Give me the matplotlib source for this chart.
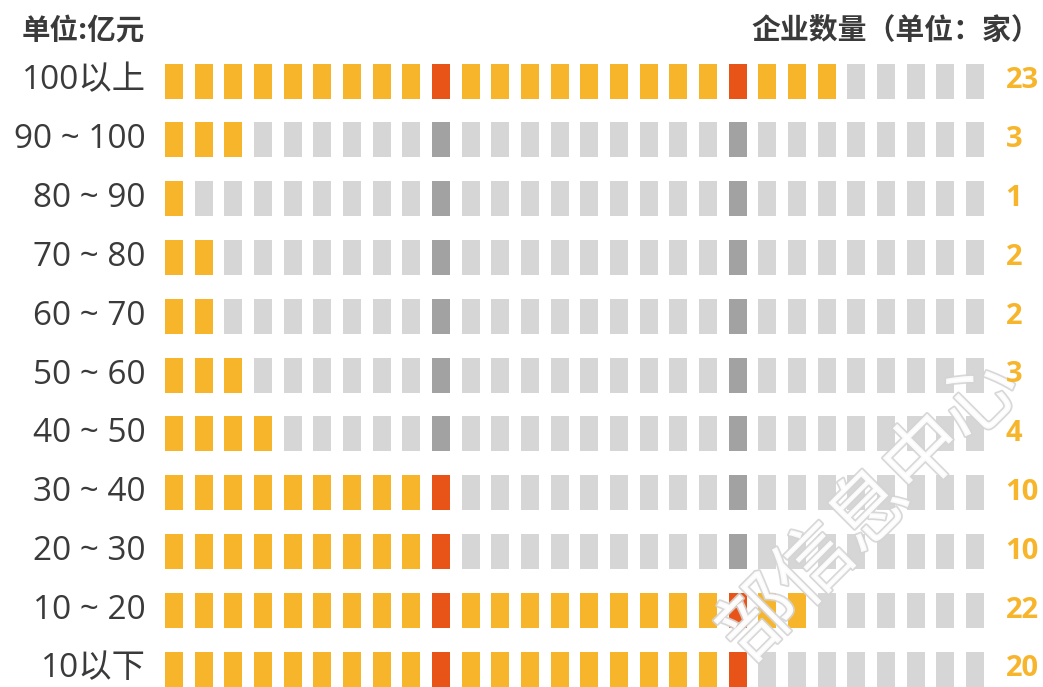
import matplotlib
matplotlib.use("Agg")
import matplotlib.pyplot as plt
import matplotlib.patheffects as pe
import numpy as np

# faixas de receita (亿元) e número de empresas
faixas = ["100以上", "90 ~ 100", "80 ~ 90", "70 ~ 80", "60 ~ 70", "50 ~ 60",
          "40 ~ 50", "30 ~ 40", "20 ~ 30", "10 ~ 20", "10以下"]
empresas = [23, 3, 1, 2, 2, 3, 4, 10, 10, 22, 20]
n_blocos = 28

amarelo = "#F7B52C"
vermelho = "#E85418"
cinza = "#D6D6D6"
cinza_esc = "#A2A2A2"
texto = "#3A3A3A"

plt.rcParams["font.family"] = ["Open Sans", "Noto Sans CJK SC", "DejaVu Sans"]

W, H = 1043, 687
fig = plt.figure(figsize=(W / 100, H / 100), dpi=100)
ax = fig.add_axes([0, 0, 1, 1])

# escala: coluna i -> pixel 174 + 29.67*i ; linha r -> pixel 81 + 58.8*r
px_col, x0 = 29.67, 174
px_lin, y0 = 58.8, 81
ax.set_xlim(-x0 / px_col, (W - x0) / px_col)
ax.set_ylim((H - y0) / px_lin, -y0 / px_lin)
ax.axis("off")

cols = np.arange(n_blocos)
for r, (faixa, n) in enumerate(zip(faixas, empresas)):
    cores = []
    for i in cols:
        marco = (i + 1) % 10 == 0
        if i < n:
            cores.append(vermelho if marco else amarelo)
        else:
            cores.append(cinza_esc if marco else cinza)
    ax.bar(cols, [35 / px_lin] * n_blocos, bottom=r - 17.5 / px_lin,
           width=18 / px_col, color=cores, linewidth=0, zorder=2)
    ax.text(-0.95, r, faixa, ha="right", va="center", fontsize=24,
            color=texto, zorder=6)
    ax.text(n_blocos + 0.03, r, str(n), ha="left", va="center",
            fontsize=21, fontweight="bold", color=amarelo, zorder=6)

ax.text(-5.12, -0.86, "单位:亿元", ha="left", va="center", fontsize=20.5,
        fontweight="bold", color=texto,
        family=["Noto Sans CJK SC", "DejaVu Sans"])
ax.text(29.2, -0.86, "企业数量（单位：家）", ha="right", va="center",
        fontsize=20.8, fontweight="bold", color=texto,
        family=["Noto Sans CJK SC", "DejaVu Sans"])

# marca d'água
ax.text(0.835, 0.255, "部信息中心", transform=ax.transAxes, rotation=45,
        ha="center", va="center", fontsize=56, fontweight=300,
        color="white", alpha=0.9, family=["Noto Sans CJK SC"], zorder=5,
        path_effects=[pe.withStroke(linewidth=2.5, foreground="#D4D4D4")])

fig.savefig("out.png", dpi=100)
